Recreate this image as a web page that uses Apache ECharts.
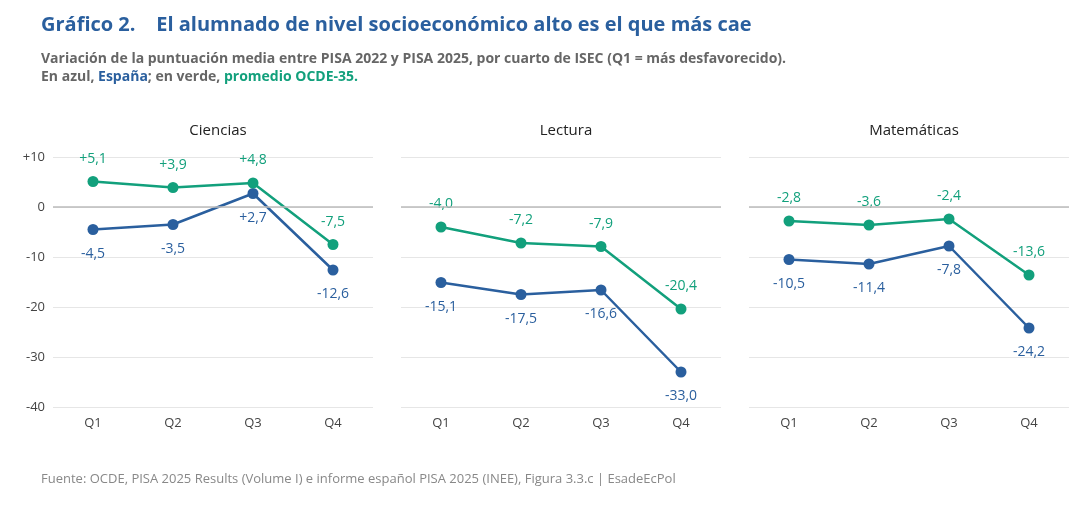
<!DOCTYPE html><html><head><meta charset="utf-8"><script src="https://cdn.jsdelivr.net/npm/echarts@6/dist/echarts.min.js"></script>
<style>body{margin:0}#c{width:1080px;height:508px}</style></head><body><div id="c"></div><script>
const categories=['Q1','Q2','Q3','Q4'];
const panels=['Ciencias','Lectura','Matemáticas'];
const spain=[[-4.5,-3.5,2.7,-12.6],[-15.1,-17.5,-16.6,-33.0],[-10.5,-11.4,-7.8,-24.2]];
const oecd=[[5.1,3.9,4.8,-7.5],[-4.0,-7.2,-7.9,-20.4],[-2.8,-3.6,-2.4,-13.6]];
const blue='#2a5f9e',green='#12a07c';
const F='"Open Sans", sans-serif';
const fmt=v=>(v>0?'+':'')+v.toFixed(1).replace('.',',');
const lefts=[53,401,749];
const grids=[],xAxis=[],yAxis=[],series=[],titles=[];
titles.push({text:'Gráfico 2.    El alumnado de nivel socioeconómico alto es el que más cae',left:36,top:10,textStyle:{fontFamily:F,fontSize:20,fontWeight:'bold',color:'#2a5f9e'}});
titles.push({text:'Variación de la puntuación media entre PISA 2022 y PISA 2025, por cuarto de ISEC (Q1 = más desfavorecido).\n{n|En azul, }{b|España}{n|; en verde, }{g|promedio OCDE-35.}',left:36,top:45,textStyle:{fontFamily:F,fontSize:14,color:'#666',lineHeight:18,rich:{n:{fontFamily:F,fontSize:14,color:'#666'},b:{fontFamily:F,fontSize:14,color:blue,fontWeight:'bold'},g:{fontFamily:F,fontSize:14,color:green,fontWeight:'bold'}}}});
titles.push({text:'Fuente: OCDE, PISA 2025 Results (Volume I) e informe español PISA 2025 (INEE), Figura 3.3.c | EsadeEcPol',left:36,top:468,textStyle:{fontFamily:F,fontSize:13,fontWeight:'normal',color:'#888'}});
panels.forEach((p,i)=>{
 titles.push({text:p,left:lefts[i]+160,top:118,textAlign:'center',textStyle:{fontFamily:F,fontSize:15,fontWeight:'normal',color:'#222'}});
 grids.push({left:lefts[i],width:320,top:157,height:250});
 xAxis.push({type:'category',gridIndex:i,data:categories,axisLine:{show:false},axisTick:{show:false},axisLabel:{fontFamily:F,fontSize:13,color:'#444',margin:10}});
 yAxis.push({type:'value',gridIndex:i,min:-40,max:10,interval:10,axisLabel:{show:i===0,fontFamily:F,fontSize:13,color:'#444',formatter:v=>v>0?'+'+v:''+v},splitLine:{lineStyle:{color:'#e6e6e6'}},axisLine:{show:false},axisTick:{show:false}});
 const mk=(data,color,pos)=>({type:'line',xAxisIndex:i,yAxisIndex:i,data,color,symbol:'circle',symbolSize:11,lineStyle:{width:2.5,color},itemStyle:{color},
  label:{show:true,position:pos,distance:pos==='top'?10:12,formatter:o=>fmt(o.value),fontFamily:F,fontSize:14,color},
  markLine:i===0&&pos==='top'||i>0&&pos==='top'?{silent:true,symbol:'none',label:{show:false},lineStyle:{color:'#bbb',type:'solid',width:1.5},data:[{yAxis:0}]}:undefined,z:pos==='top'?3:2});
 series.push(mk(spain[i],blue,'bottom'));
 series.push(mk(oecd[i],green,'top'));
});
const ch=echarts.init(document.getElementById('c'));
ch.setOption({animation:false,backgroundColor:'#fff',title:titles,grid:grids,xAxis,yAxis,series});
</script></body></html>
